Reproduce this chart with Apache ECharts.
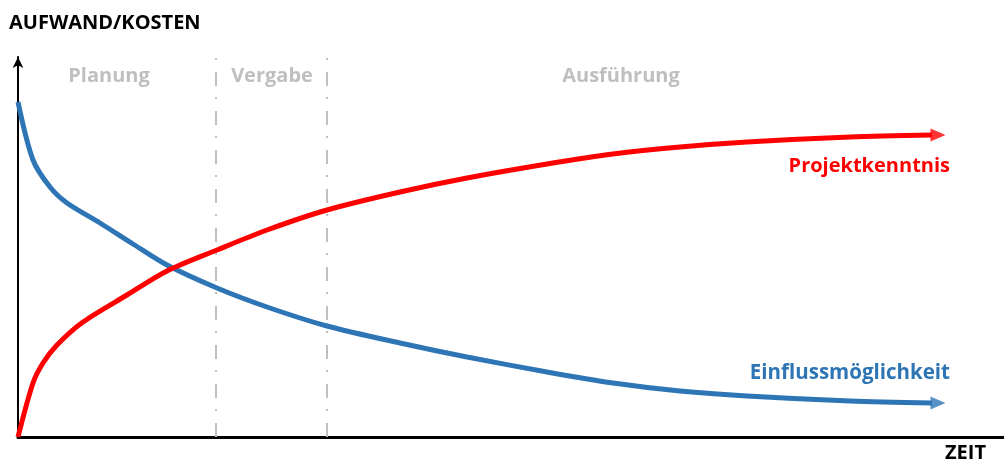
<!DOCTYPE html>
<html>
<head>
<meta charset="utf-8">
<script src="https://cdn.jsdelivr.net/npm/echarts@6/dist/echarts.min.js"></script>
<style>
  html, body { margin: 0; padding: 0; background: #fff; }
  #chart { width: 1004px; height: 466px; }
</style>
</head>
<body>
<div id="chart"></div>
<script>
// Zeit (x) und Aufwand (y) in relativen Einheiten
const kenntnisX = [0, 15, 25, 39, 65, 109, 149, 199, 249, 309, 382, 449, 529, 595, 662, 729, 832, 914]
const kenntnisY = [0, 54, 74, 92, 115, 142, 166, 187, 207, 227, 245, 259, 273, 283, 290, 295, 300, 302]

const einflussX = [0, 15, 32, 49, 82, 115, 149, 199, 249, 309, 382, 449, 529, 595, 662, 729, 832, 914]
const einflussY = [335, 277, 250, 234, 214, 193, 172, 149, 130, 111, 94, 80, 65, 54, 46, 41, 36, 34]

// Pfeilspitzen am Ende der Kurven
const kenntnisPfeil = [920, 302]
const einflussPfeil = [920, 34]

// Phasengrenzen (Planung | Vergabe | Ausführung)
const phasenGrenzen = [198, 309]

const xMax = 986
const yMax = 380

const zip = (xs, ys) => xs.map((x, i) => [x, ys[i]])

const fontFam = '"Open Sans", "Liberation Sans", sans-serif'
const grau = '#bfbfbf'
const rot = '#ff0000'
const blau = '#2e75b6'

const myChart = echarts.init(document.getElementById('chart'))

const option = {
  animation: false,
  grid: { left: 18, right: 0, top: 57, bottom: 29 },
  xAxis: {
    type: 'value',
    min: 0,
    max: xMax,
    axisLine: { show: true, onZero: false, lineStyle: { color: '#000', width: 3 } },
    axisTick: { show: false },
    axisLabel: { show: false },
    splitLine: { show: false }
  },
  yAxis: {
    type: 'value',
    min: 0,
    max: yMax,
    axisLine: {
      show: true,
      onZero: false,
      symbol: ['none', 'arrow'],
      symbolSize: [8, 11],
      lineStyle: { color: '#000', width: 2 }
    },
    axisTick: { show: false },
    axisLabel: { show: false },
    splitLine: { show: false }
  },
  series: [
    {
      name: 'Einflussmöglichkeit',
      type: 'line',
      data: zip(einflussX, einflussY),
      smooth: 0.3,
      symbol: 'none',
      lineStyle: { color: blau, width: 5 },
      z: 3
    },
    {
      name: 'Projektkenntnis',
      type: 'line',
      data: zip(kenntnisX, kenntnisY),
      smooth: 0.3,
      symbol: 'none',
      lineStyle: { color: rot, width: 5 },
      z: 4,
      markLine: {
        silent: true,
        symbol: ['none', 'none'],
        label: { show: false },
        lineStyle: { color: grau, width: 2, type: [14, 12, 2, 11] },
        data: phasenGrenzen.map(x => ({ xAxis: x }))
      }
    },
    {
      type: 'scatter',
      data: [einflussPfeil],
      symbol: 'triangle',
      symbolRotate: -90,
      symbolSize: [13, 15],
      itemStyle: { color: blau },
      z: 3
    },
    {
      type: 'scatter',
      data: [kenntnisPfeil],
      symbol: 'triangle',
      symbolRotate: -90,
      symbolSize: [13, 15],
      itemStyle: { color: rot },
      z: 4
    }
  ],
  graphic: [
    {
      type: 'text', left: 9, top: 13,
      style: { text: 'AUFWAND/KOSTEN', fill: '#000', font: 'bold 20px ' + fontFam }
    },
    {
      type: 'text', left: 945, top: 443,
      style: { text: 'ZEIT', fill: '#000', font: 'bold 20px ' + fontFam }
    },
    {
      type: 'text', x: 109, y: 76,
      style: { text: 'Planung', fill: grau, font: 'bold 20px ' + fontFam, align: 'center', verticalAlign: 'middle' }
    },
    {
      type: 'text', x: 272, y: 76,
      style: { text: 'Vergabe', fill: grau, font: 'bold 20px ' + fontFam, align: 'center', verticalAlign: 'middle' }
    },
    {
      type: 'text', x: 621, y: 76,
      style: { text: 'Ausführung', fill: grau, font: 'bold 20px ' + fontFam, align: 'center', verticalAlign: 'middle' }
    },
    {
      type: 'text', x: 950, y: 166,
      style: { text: 'Projektkenntnis', fill: rot, font: 'bold 20px ' + fontFam, align: 'right', verticalAlign: 'middle' }
    },
    {
      type: 'text', x: 950, y: 373,
      style: { text: 'Einflussmöglichkeit', fill: blau, font: 'bold 20.5px ' + fontFam, align: 'right', verticalAlign: 'middle' }
    }
  ]
}

myChart.setOption(option)
</script>
</body>
</html>
